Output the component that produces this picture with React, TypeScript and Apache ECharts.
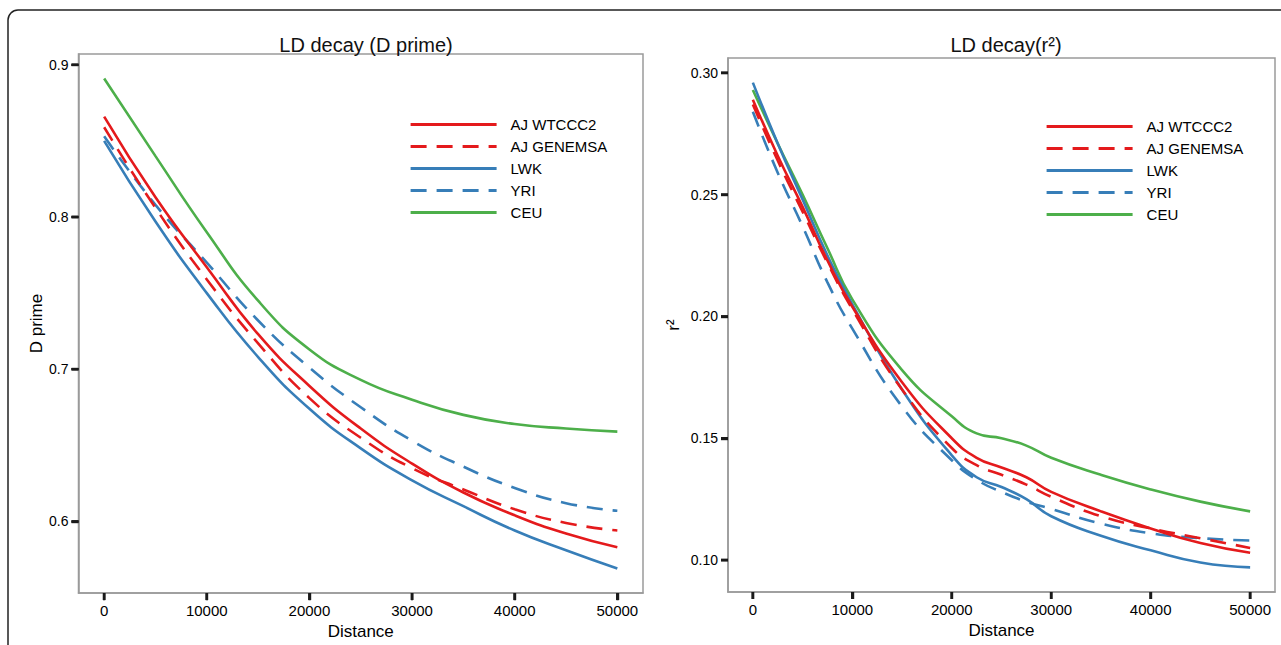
import React, { useEffect, useRef } from "react";
import * as echarts from "echarts";

const xTicks = [0, 10000, 20000, 30000, 40000, 50000];
const dpTicks = [0.6, 0.7, 0.8, 0.9];
const r2Ticks = [0.1, 0.15, 0.2, 0.25, 0.3];
const seriesNames = ["AJ WTCCC2", "AJ GENEMSA", "LWK", "YRI", "CEU"];

const distLeft = [0, 5000, 10000, 15000, 20000, 25000, 30000, 35000, 40000, 45000, 50000];
const dpAJWTCCC2 = [0.866, 0.813, 0.767, 0.723, 0.689, 0.661, 0.638, 0.619, 0.604, 0.592, 0.583];
const dpAJGENEMSA = [0.859, 0.806, 0.759, 0.717, 0.681, 0.655, 0.635, 0.621, 0.608, 0.599, 0.594];
const dpLWK = [0.85, 0.797, 0.75, 0.708, 0.674, 0.648, 0.627, 0.61, 0.594, 0.581, 0.569];
const dpYRI = [0.853, 0.808, 0.77, 0.732, 0.701, 0.675, 0.653, 0.636, 0.622, 0.612, 0.607];
const dpCEU = [0.891, 0.84, 0.79, 0.745, 0.713, 0.693, 0.68, 0.67, 0.664, 0.661, 0.659];

const distRight = [0, 2500, 5000, 7500, 10000, 15000, 20000, 22500, 25000, 27500, 30000, 35000, 40000, 45000, 50000];
const r2AJWTCCC2 = [0.289, 0.266, 0.245, 0.223, 0.204, 0.173, 0.15, 0.142, 0.138, 0.134, 0.128, 0.12, 0.113, 0.107, 0.103];
const r2AJGENEMSA = [0.287, 0.264, 0.243, 0.222, 0.203, 0.17, 0.146, 0.139, 0.135, 0.131, 0.126, 0.118, 0.113, 0.109, 0.105];
const r2LWK = [0.296, 0.271, 0.248, 0.225, 0.205, 0.17, 0.143, 0.134, 0.13, 0.125, 0.118, 0.11, 0.104, 0.099, 0.097];
const r2YRI = [0.284, 0.259, 0.237, 0.214, 0.195, 0.163, 0.141, 0.133, 0.128, 0.124, 0.121, 0.115, 0.111, 0.109, 0.108];
const r2CEU = [0.293, 0.271, 0.25, 0.228, 0.207, 0.178, 0.159, 0.152, 0.15, 0.147, 0.142, 0.135, 0.129, 0.124, 0.12];

const RED = "#e41a1c";
const BLUE = "#377eb8";
const GREEN = "#4daf4a";
const FONT = "'Liberation Sans', Arial, sans-serif";

const X_MIN = -2500;
const X_MAX = 52500;
const DP_MIN = 0.5529;
const DP_MAX = 0.9071;
const R2_MIN = 0.0869;
const R2_MAX = 0.3061;

const styles = [
  { color: RED, type: "solid" as any },
  { color: RED, type: [16, 10] as any },
  { color: BLUE, type: "solid" as any },
  { color: BLUE, type: [16, 10] as any },
  { color: GREEN, type: "solid" as any },
];

function pairs(xs: number[], ys: number[]) {
  return xs.map((x, i) => [x, ys[i]]);
}

export default function App() {
  const ref = useRef<HTMLDivElement>(null);
  useEffect(() => {
    document.body.style.margin = "0";
    if (!ref.current) return;
    const chart = echarts.init(ref.current, undefined, { renderer: "svg" });
    const leftData = [dpAJWTCCC2, dpAJGENEMSA, dpLWK, dpYRI, dpCEU];
    const rightData = [r2AJWTCCC2, r2AJGENEMSA, r2LWK, r2YRI, r2CEU];
    const series: any[] = [];
    const addSeries = (axis: number, xs: number[], data: number[][]) => {
      seriesNames.forEach((name, i) => {
        series.push({
          type: "line",
          name,
          xAxisIndex: axis,
          yAxisIndex: axis,
          data: pairs(xs, data[i]),
          smooth: 0.5,
          symbol: "none",
          showSymbol: false,
          lineStyle: { color: styles[i].color, width: 2.6, type: styles[i].type },
          itemStyle: { color: styles[i].color },
          z: 10 - i,
        });
      });
    };
    addSeries(0, distLeft, leftData);
    addSeries(1, distRight, rightData);

    const tickStyle = { stroke: "#1a1a1a", lineWidth: 2.4 };
    // tick marks as a custom series, drawn through the axes' own scales
    const addTickSeries = (axis: number, yMin: number, yTickVals: number[]) => {
      series.push({
        type: "custom",
        xAxisIndex: axis,
        yAxisIndex: axis,
        silent: true,
        clip: false,
        z: 40,
        data: xTicks.map((v) => [v, yMin]),
        renderItem: (params: any, api: any) => {
          const p = api.coord([api.value(0), api.value(1)]);
          return { type: "line", shape: { x1: p[0], y1: p[1], x2: p[0], y2: p[1] + 7 }, style: tickStyle };
        },
      });
      series.push({
        type: "custom",
        xAxisIndex: axis,
        yAxisIndex: axis,
        silent: true,
        clip: false,
        z: 40,
        data: yTickVals.map((v) => [X_MIN, v]),
        renderItem: (params: any, api: any) => {
          const p = api.coord([api.value(0), api.value(1)]);
          return { type: "line", shape: { x1: p[0], y1: p[1], x2: p[0] - 7, y2: p[1] }, style: tickStyle };
        },
      });
    };
    addTickSeries(0, DP_MIN, dpTicks);
    addTickSeries(1, R2_MIN, r2Ticks);

    const axisLine = { show: true, onZero: false, lineStyle: { color: "#9a9a9a", width: 1.5 } };
    const axisTick = (vals: number[]) => ({
      show: true,
      inside: false,
      length: 7,
      lineStyle: { color: "#1a1a1a", width: 2.4 },
      customValues: vals,
    });

    const xAxisBase = (gridIndex: number) => ({
      type: "value",
      gridIndex,
      position: "bottom",
      min: X_MIN,
      max: X_MAX,
      splitLine: { show: false },
      axisLine,
      axisTick: axisTick(xTicks),
      axisLabel: {
        customValues: xTicks,
        fontSize: 15,
        color: "#000",
        margin: 10,
        fontFamily: FONT,
        formatter: (v: number) => String(Math.round(v)),
      },
      name: "Distance",
      nameLocation: "middle",
      nameGap: 27,
      nameTextStyle: { fontSize: 17, color: "#000", fontFamily: FONT },
    });

    const legendBase = (left: number, top: number) => ({
      data: seriesNames,
      orient: "vertical",
      left,
      top,
      padding: 0,
      itemWidth: 86,
      itemHeight: 14,
      itemGap: 7,
      selectedMode: false,
      itemStyle: { opacity: 0 },
      lineStyle: { width: 3.2 },
      textStyle: { fontSize: 15, color: "#000", fontFamily: FONT, padding: [0, 0, 0, 9], lineHeight: 14 },
    });

    const yAxisBase = (gridIndex: number, min: number, max: number, ticks: number[], digits: number, name: string, gap: number) => ({
      type: "value",
      gridIndex,
      position: "left",
      min,
      max,
      splitLine: { show: false },
      axisLine,
      axisTick: axisTick(ticks),
      axisLabel: {
        customValues: ticks,
        fontSize: 14,
        color: "#000",
        margin: 10,
        fontFamily: FONT,
        formatter: (v: number) => v.toFixed(digits),
      },
      name,
      nameLocation: "middle",
      nameGap: gap,
      nameTextStyle: { fontSize: 17, color: "#000", fontFamily: FONT },
    });

    const frame = {
      type: "rect",
      shape: { x: 8, y: 10, width: 1300, height: 660, r: 10 },
      style: { fill: "none", stroke: "#222", lineWidth: 1.5 },
      silent: true,
      z: 100,
    };

    chart.setOption({
      animation: false,
      backgroundColor: "#fff",
      title: [
        {
          text: "LD decay (D prime)",
          left: 361,
          top: 30,
          textAlign: "center",
          textStyle: { fontSize: 20, fontWeight: "normal", color: "#111", fontFamily: FONT },
        },
        {
          text: "LD decay(r²)",
          left: 1001,
          top: 30,
          textAlign: "center",
          textStyle: { fontSize: 20, fontWeight: "normal", color: "#111", fontFamily: FONT },
        },
      ],
      legend: [legendBase(409, 117), legendBase(1045, 119)],
      grid: [
        { left: 78.5, top: 54, width: 564.5, height: 548, show: true, borderColor: "#9a9a9a", borderWidth: 1.5, containLabel: false },
        { left: 728, top: 58, width: 547, height: 534, show: true, borderColor: "#9a9a9a", borderWidth: 1.5, containLabel: false },
      ],
      xAxis: [xAxisBase(0), xAxisBase(1)],
      yAxis: [
        yAxisBase(0, DP_MIN, DP_MAX, dpTicks, 1, "D prime", 31),
        yAxisBase(1, R2_MIN, R2_MAX, r2Ticks, 2, "r²", 46),
      ],
      graphic: [frame],
      series,
    });

    // the same tick marks once more as graphic lines, placed with the axes' scales
    try {
      const ticks: any[] = [];
      const addTicks = (idx: number, yMin: number, yTickVals: number[]) => {
        const yBottom = chart.convertToPixel({ yAxisIndex: idx }, yMin) as number;
        const xLeft = chart.convertToPixel({ xAxisIndex: idx }, X_MIN) as number;
        if (!isFinite(yBottom) || !isFinite(xLeft)) return;
        xTicks.forEach((v) => {
          const px = chart.convertToPixel({ xAxisIndex: idx }, v) as number;
          ticks.push({ type: "line", silent: true, z: 95, shape: { x1: px, y1: yBottom, x2: px, y2: yBottom + 7 }, style: tickStyle });
        });
        yTickVals.forEach((v) => {
          const py = chart.convertToPixel({ yAxisIndex: idx }, v) as number;
          ticks.push({ type: "line", silent: true, z: 95, shape: { x1: xLeft, y1: py, x2: xLeft - 7, y2: py }, style: tickStyle });
        });
      };
      addTicks(0, DP_MIN, dpTicks);
      addTicks(1, R2_MIN, r2Ticks);
      if (ticks.length) chart.setOption({ graphic: [frame, ...ticks] });
    } catch (e) {
      // keep the chart as it is
    }

    return () => chart.dispose();
  }, []);
  return <div ref={ref} style={{ width: 1281, height: 645 }} />;
}
